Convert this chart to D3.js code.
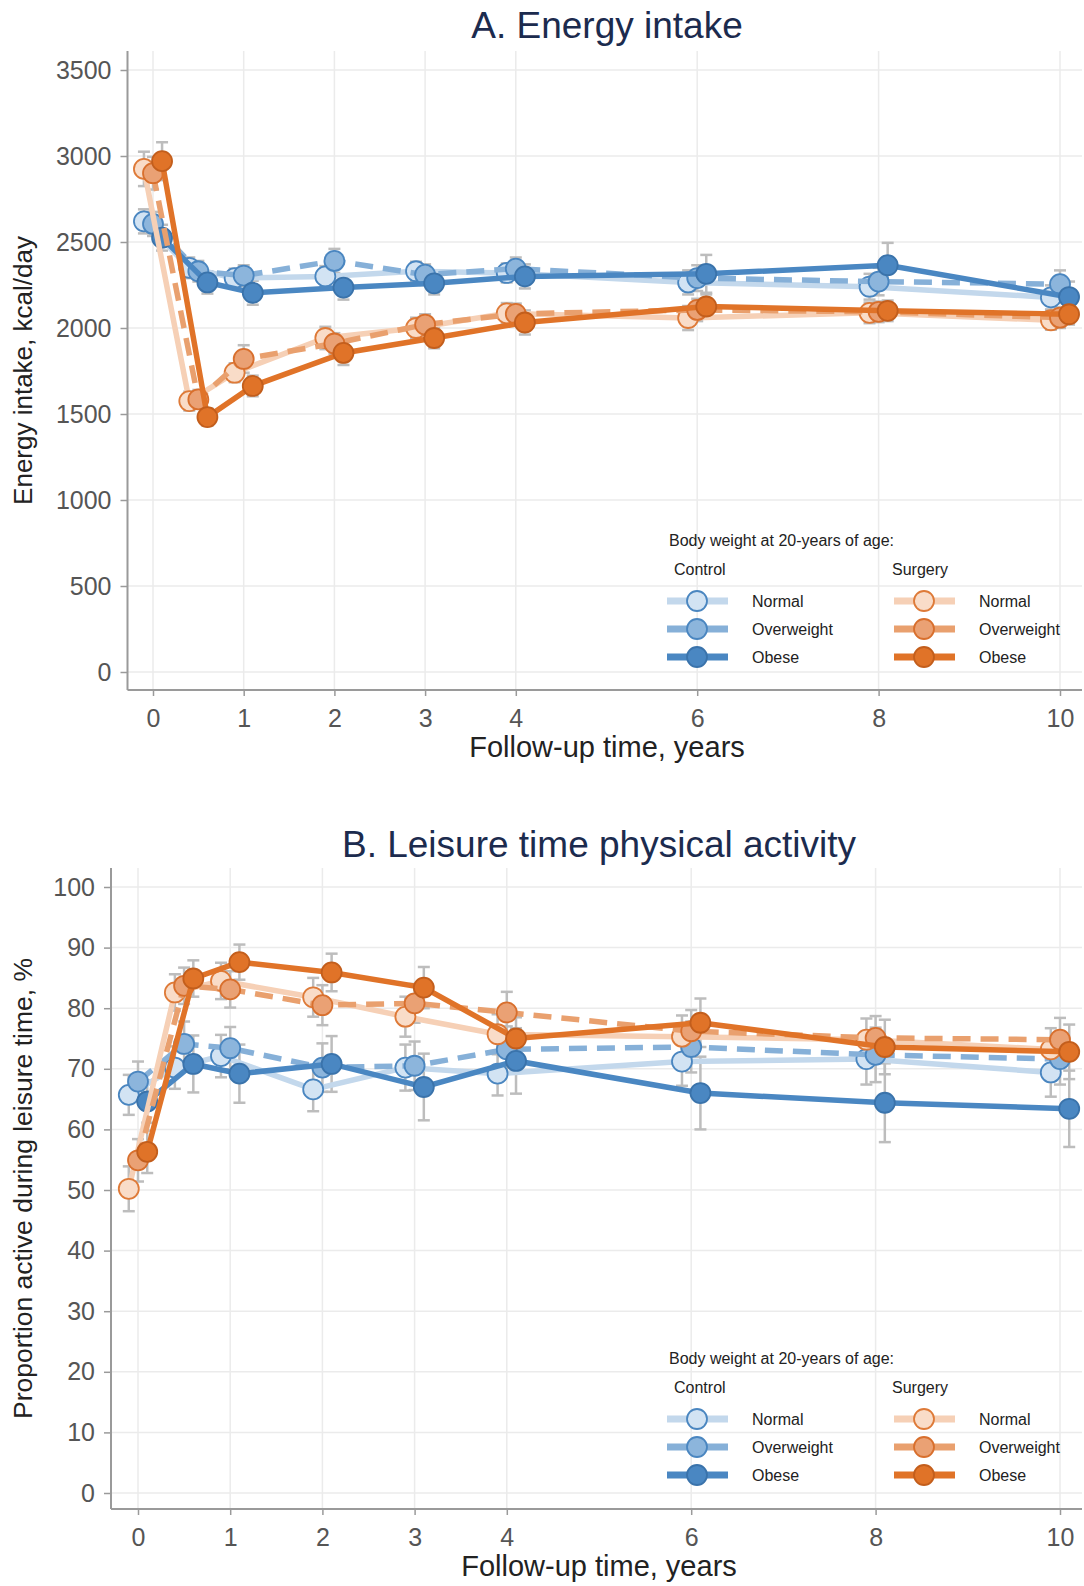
<!DOCTYPE html>
<html>
<head>
<meta charset="utf-8">
<script src="https://cdn.jsdelivr.net/npm/d3@7"></script>
<style>
  body { margin: 0; background: #fff; }
  svg text { font-family: "Liberation Sans", Arial, sans-serif; }
</style>
</head>
<body>
<div id="chart"></div>
<script>
// follow-up visits (years) and axis ticks
const times = [0, 0.5, 1, 2, 3, 4, 6, 8, 10]
const xTicks = [0, 1, 2, 3, 4, 6, 8, 10]
const energyTicks = [0, 500, 1000, 1500, 2000, 2500, 3000, 3500]
const activityTicks = [0, 10, 20, 30, 40, 50, 60, 70, 80, 90, 100]

const groups = ['Normal', 'Overweight', 'Obese']
const arms = ['Control', 'Surgery']

// A. energy intake, kcal/day
const ctrlNormalEnergy = [2620, 2350, 2290, 2300, 2330, 2320, 2265, 2240, 2178]
const ctrlOverEnergy   = [2605, 2330, 2305, 2390, 2310, 2345, 2290, 2270, 2255]
const ctrlObeseEnergy  = [2525, 2265, 2205, 2235, 2260, 2300, 2315, 2365, 2180]
const surgNormalEnergy = [2925, 1575, 1740, 1942, 2000, 2085, 2058, 2088, 2045]
const surgOverEnergy   = [2900, 1585, 1820, 1910, 2020, 2082, 2105, 2094, 2060]
const surgObeseEnergy  = [2970, 1482, 1663, 1855, 1942, 2032, 2125, 2100, 2080]
// half widths of the error bars
const ctrlNormalEnergyErr = [70, 60, 55, 60, 55, 55, 70, 75, 70]
const ctrlOverEnergyErr   = [70, 60, 60, 70, 60, 65, 75, 80, 80]
const ctrlObeseEnergyErr  = [75, 65, 70, 70, 65, 70, 110, 130, 90]
const surgNormalEnergyErr = [100, 55, 55, 65, 60, 60, 70, 60, 55]
const surgOverEnergyErr   = [95, 55, 80, 60, 60, 60, 65, 60, 60]
const surgObeseEnergyErr  = [110, 50, 60, 70, 60, 70, 70, 60, 60]

// B. proportion active during leisure time, %
const ctrlNormalAct = [65.7, 70.2, 72.1, 66.6, 70.2, 69.2, 71.2, 71.6, 69.4]
const ctrlOverAct   = [67.9, 74.1, 73.4, 70.2, 70.5, 73.2, 73.6, 72.3, 71.6]
const ctrlObeseAct  = [64.6, 70.8, 69.2, 70.8, 67.0, 71.3, 66.0, 64.4, 63.4]
const surgNormalAct = [50.2, 82.6, 84.5, 81.8, 78.6, 75.7, 75.3, 74.8, 73.2]
const surgOverAct   = [54.9, 83.7, 83.1, 80.5, 80.8, 79.3, 76.2, 75.1, 74.8]
const surgObeseAct  = [56.3, 84.9, 87.6, 85.9, 83.4, 75.0, 77.6, 73.6, 72.8]
const ctrlNormalActErr = [3.3, 3.5, 3.5, 3.6, 3.8, 3.6, 4.0, 4.2, 4.0]
const ctrlOverActErr   = [3.3, 3.7, 3.5, 4.0, 4.0, 3.8, 4.2, 4.5, 4.2]
const ctrlObeseActErr  = [3.5, 4.7, 4.8, 4.6, 5.5, 5.4, 6.0, 6.5, 6.3]
const surgNormalActErr = [3.7, 3.0, 3.0, 3.2, 3.3, 3.3, 3.5, 3.5, 3.5]
const surgOverActErr   = [3.5, 3.0, 3.0, 3.3, 3.2, 3.4, 3.5, 3.6, 3.6]
const surgObeseActErr  = [3.5, 3.0, 2.9, 3.1, 3.4, 3.5, 4.0, 4.5, 4.5]

// styling per series: arm x weight group
const styles = {
  Control: [
    {line: '#c3d8ec', fill: '#d2e3f3', stroke: '#4a86c0', dash: null},
    {line: '#86b0d8', fill: '#8cb5dc', stroke: '#4a86c0', dash: '18,10'},
    {line: '#4a87c2', fill: '#4a87c2', stroke: '#3a73ab', dash: null}
  ],
  Surgery: [
    {line: '#f6d0b6', fill: '#f9dcc8', stroke: '#de7a38', dash: null},
    {line: '#e9a06e', fill: '#eaa174', stroke: '#d86f2d', dash: '18,10'},
    {line: '#e07328', fill: '#e07328', stroke: '#c35e1c', dash: null}
  ]
}
const jitter = [-0.1, 0, 0.1]

const width = 1084, height = 1586
const svg = d3.select('#chart').append('svg')
  .attr('width', width).attr('height', height)

function drawPanel(p) {
  const x = d3.scaleLinear().domain([0, 10]).range(p.xRange)
  const y = d3.scaleLinear().domain(p.yDomain).range(p.yRange)
  const g = svg.append('g')

  // grid
  g.selectAll('.hgrid').data(p.yTicks).enter().append('line')
    .attr('x1', p.left).attr('x2', p.right)
    .attr('y1', d => y(d)).attr('y2', d => y(d))
    .attr('stroke', '#ebebeb').attr('stroke-width', 1.5)
  g.selectAll('.vgrid').data(xTicks).enter().append('line')
    .attr('x1', d => x(d)).attr('x2', d => x(d))
    .attr('y1', p.top).attr('y2', p.bottom)
    .attr('stroke', '#ebebeb').attr('stroke-width', 1.5)

  // axes
  const yAxis = g.append('g').attr('transform', `translate(${p.left},0)`)
    .call(d3.axisLeft(y).tickValues(p.yTicks).tickFormat(d3.format('d')).tickSize(7).tickPadding(9))
  const xAxis = g.append('g').attr('transform', `translate(0,${p.bottom})`)
    .call(d3.axisBottom(x).tickValues(xTicks).tickFormat(d3.format('d')).tickSize(6).tickPadding(13))
  ;[yAxis, xAxis].forEach(a => {
    a.select('.domain').remove()
    a.selectAll('line').attr('stroke', '#9a9a9a').attr('stroke-width', 1.5)
    a.selectAll('text').attr('fill', '#555').attr('font-size', 25)
  })
  g.append('line').attr('x1', p.left).attr('x2', p.left)
    .attr('y1', p.top).attr('y2', p.bottom)
    .attr('stroke', '#9a9a9a').attr('stroke-width', 2)
  g.append('line').attr('x1', p.left).attr('x2', p.right)
    .attr('y1', p.bottom).attr('y2', p.bottom)
    .attr('stroke', '#9a9a9a').attr('stroke-width', 2)

  // titles
  g.append('text').attr('x', p.titleX).attr('y', p.titleY)
    .attr('text-anchor', 'middle').attr('font-size', 37).attr('fill', '#1c2b4e')
    .text(p.title)
  g.append('text').attr('x', p.titleX).attr('y', p.bottom + 67)
    .attr('text-anchor', 'middle').attr('font-size', 29).attr('fill', '#222')
    .text('Follow-up time, years')
  g.append('text')
    .attr('transform', `translate(32,${(p.top + p.bottom) / 2}) rotate(-90)`)
    .attr('text-anchor', 'middle').attr('font-size', p.yTitleSize).attr('fill', '#222')
    .text(p.yTitle)

  const series = []
  arms.forEach((arm, a) => groups.forEach((grp, k) => {
    series.push({style: styles[arm][k],
      pts: times.map((t, i) => ({t: t + jitter[k], v: p.values[a * 3 + k][i], e: p.errors[a * 3 + k][i]}))})
  }))

  // error bars
  series.forEach(s => {
    const eb = g.append('g').attr('stroke', '#bdbdbd').attr('stroke-width', 2.5)
    s.pts.forEach(d => {
      eb.append('line').attr('x1', x(d.t)).attr('x2', x(d.t))
        .attr('y1', y(d.v - d.e)).attr('y2', y(d.v + d.e))
      ;[d.v - d.e, d.v + d.e].forEach(c => eb.append('line')
        .attr('x1', x(d.t) - 6).attr('x2', x(d.t) + 6)
        .attr('y1', y(c)).attr('y2', y(c)))
    })
  })

  // lines + markers
  const line = d3.line().x(d => x(d.t)).y(d => y(d.v))
  series.forEach(s => {
    g.append('path').datum(s.pts).attr('d', line)
      .attr('fill', 'none').attr('stroke', s.style.line).attr('stroke-width', 5.5)
      .attr('stroke-dasharray', s.style.dash)
    g.selectAll(null).data(s.pts).enter().append('circle')
      .attr('cx', d => x(d.t)).attr('cy', d => y(d.v)).attr('r', 10)
      .attr('fill', s.style.fill).attr('stroke', s.style.stroke).attr('stroke-width', 1.8)
  })

  // legend
  const lg = g.append('g').attr('font-size', 16).attr('fill', '#222')
  lg.append('text').attr('x', 669).attr('y', p.legendY).text('Body weight at 20-years of age:')
  arms.forEach((arm, a) => {
    const lx = a === 0 ? 667 : 894
    lg.append('text').attr('x', a === 0 ? lx + 7 : lx - 2).attr('y', p.legendY + 29).text(arm)
    groups.forEach((grp, k) => {
      const st = styles[arm][k]
      const ly = p.legendY + 55 + k * 28
      lg.append('line').attr('x1', lx).attr('x2', lx + 61).attr('y1', ly).attr('y2', ly)
        .attr('stroke', st.line).attr('stroke-width', 7)
      lg.append('circle').attr('cx', lx + 30).attr('cy', ly).attr('r', 10)
        .attr('fill', st.fill).attr('stroke', st.stroke).attr('stroke-width', 1.8)
      lg.append('text').attr('x', lx + 85).attr('y', ly + 6).text(grp)
    })
  })
}

drawPanel({
  title: 'A. Energy intake', titleX: 607, titleY: 38,
  yTitle: 'Energy intake, kcal/day', yTitleSize: 26,
  left: 127.5, right: 1082, top: 51, bottom: 690,
  xRange: [153, 1060], yDomain: [0, 3500], yRange: [672, 70],
  yTicks: energyTicks, legendY: 546,
  values: [ctrlNormalEnergy, ctrlOverEnergy, ctrlObeseEnergy, surgNormalEnergy, surgOverEnergy, surgObeseEnergy],
  errors: [ctrlNormalEnergyErr, ctrlOverEnergyErr, ctrlObeseEnergyErr, surgNormalEnergyErr, surgOverEnergyErr, surgObeseEnergyErr]
})

drawPanel({
  title: 'B. Leisure time physical activity', titleX: 599, titleY: 857,
  yTitle: 'Proportion active during leisure time, %', yTitleSize: 26.5,
  left: 111, right: 1082, top: 868, bottom: 1509,
  xRange: [138, 1060], yDomain: [0, 100], yRange: [1493, 887],
  yTicks: activityTicks, legendY: 1364,
  values: [ctrlNormalAct, ctrlOverAct, ctrlObeseAct, surgNormalAct, surgOverAct, surgObeseAct],
  errors: [ctrlNormalActErr, ctrlOverActErr, ctrlObeseActErr, surgNormalActErr, surgOverActErr, surgObeseActErr]
})
</script>
</body>
</html>
